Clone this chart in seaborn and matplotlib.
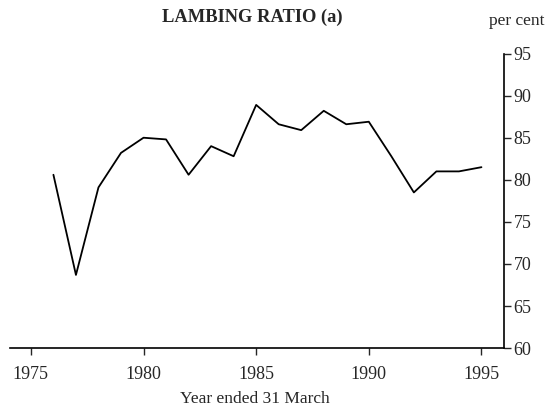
import numpy as np
import pandas as pd
import matplotlib
matplotlib.use('Agg')
import matplotlib.pyplot as plt
import seaborn as sns

# lambing ratio, per cent, year ended 31 March
years = [1976, 1977, 1978, 1979, 1980, 1981, 1982, 1983, 1984, 1985,
         1986, 1987, 1988, 1989, 1990, 1991, 1992, 1993, 1994, 1995]
ratio = [80.6, 68.7, 79.1, 83.2, 85.0, 84.8, 80.6, 84.0, 82.8, 88.9,
         86.6, 85.9, 88.2, 86.6, 86.9, 82.8, 78.5, 81.0, 81.0, 81.5]
xticks = [1975, 1980, 1985, 1990, 1995]
yticks = [60, 65, 70, 75, 80, 85, 90, 95]

df = pd.DataFrame({'year': years, 'ratio': ratio})

sns.set_style('white')
plt.rcParams['font.family'] = ['Liberation Serif', 'DejaVu Serif']

fig = plt.figure(figsize=(5.52, 4.12), dpi=100)
ax = fig.add_axes([0.018, 0.155, 0.895, 0.715])

sns.lineplot(data=df, x='year', y='ratio', ax=ax, color='black', linewidth=1.3)

ax.set_xlim(1974.07, 1996.0)
ax.set_ylim(60, 95)
ax.set_xticks(xticks)
ax.set_yticks(yticks)
ax.yaxis.tick_right()
ax.yaxis.set_label_position('right')
ax.tick_params(axis='y', right=True, direction='out', length=5, width=1,
               labelsize=13, pad=2)
ax.tick_params(axis='x', bottom=True, direction='out', length=5, width=1,
               labelsize=13, pad=8)

for s in ['top', 'left']:
    ax.spines[s].set_visible(False)
for s in ['bottom', 'right']:
    ax.spines[s].set_color('black')
    ax.spines[s].set_linewidth(1.2)

ax.set_xlabel('')
ax.set_ylabel('')

fig.text(0.462, 0.032, 'Year ended 31 March', ha='center', va='center',
         fontsize=12.5)
fig.text(0.457, 0.957, 'LAMBING RATIO (a)', ha='center', va='center',
         fontsize=13.3, fontweight='bold')
fig.text(0.937, 0.95, 'per cent', ha='center', va='center', fontsize=12.5)

fig.savefig('out.png', dpi=100)
